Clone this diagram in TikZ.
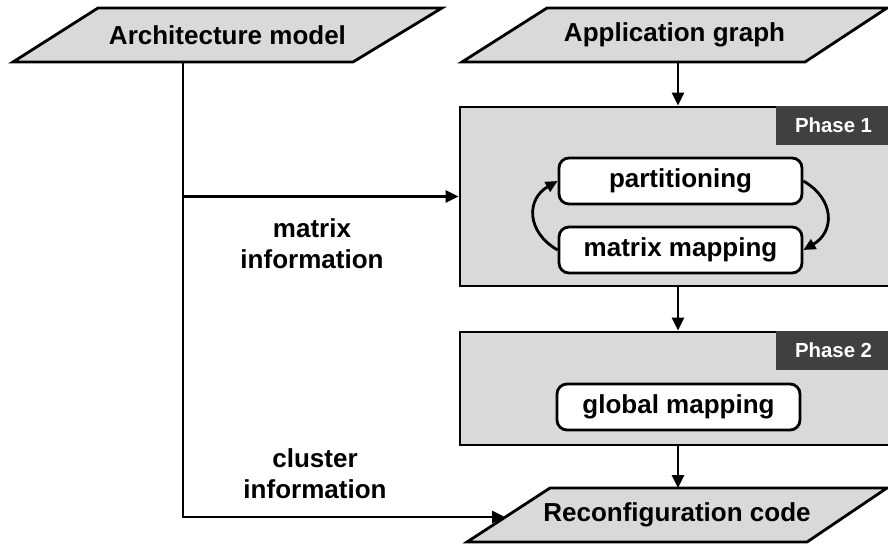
\documentclass[tikz,border=0pt]{standalone}
\usepackage{fontspec}
\setmainfont{Liberation Sans}
\usetikzlibrary{arrows.meta}

\definecolor{boxfill}{RGB}{217,217,217}
\definecolor{tagfill}{RGB}{64,64,64}

\begin{document}
\begin{tikzpicture}[
  font=\fontsize{14.8}{17.6}\selectfont\bfseries,
  iobox/.style={draw, fill=boxfill, line width=1.6pt},
  phasebox/.style={draw, fill=boxfill, line width=1.6pt, minimum width=8.6cm, inner sep=0pt},
  phasetag/.style={fill=tagfill, text=white, anchor=north east, minimum width=2.3cm,
    minimum height=0.78cm, inner sep=0pt, font=\fontsize{11.6}{14}\selectfont\bfseries},
  stepbox/.style={draw, fill=white, rounded corners=0.2cm, line width=1.6pt,
    minimum width=4.86cm, minimum height=0.92cm, inner sep=0pt},
  flowarrow/.style={line width=1.6pt, -{Triangle[length=0.26cm,width=0.24cm]}},
  cyclearrow/.style={line width=1.6pt, -{Triangle[length=0.24cm,width=0.22cm]}}
]
  \useasboundingbox (0,0) rectangle (17.76,10.88);

  % Draw inputs and output
  \draw[iobox] (0.26,9.64) -- (7.06,9.64) -- (8.84,10.72) -- (1.96,10.72) -- cycle;
  \node (arch) at (4.55,10.18) {Architecture model};
  \draw[iobox] (9.24,9.64) -- (16.1,9.64) -- (17.74,10.72) -- (10.94,10.72) -- cycle;
  \node (app) at (13.49,10.18) {Application graph};
  \draw[iobox] (9.34,0.04) -- (16.14,0.04) -- (17.74,1.12) -- (11.0,1.12) -- cycle;
  \node (reconf) at (13.54,0.58) {Reconfiguration code};

  \coordinate (archout) at (3.66,9.64);
  \coordinate (appout) at (13.56,9.64);
  \coordinate (reconfin) at (13.56,1.12);
  \coordinate (reconfleft) at (10.1,0.54);

  % Draw the two phases
  \node[phasebox, minimum height=3.58cm] (phase1) at (13.5,6.95) {};
  \node[phasetag] (tag1) at (phase1.north east) {Phase 1};
  \node[phasebox, minimum height=2.26cm] (phase2) at (13.5,3.11) {};
  \node[phasetag] (tag2) at (phase2.north east) {Phase 2};

  % Steps inside the phases
  \node[stepbox] (part) at (13.61,7.26) {partitioning};
  \node[stepbox] (mapping) at (13.61,5.88) {matrix mapping};
  \node[stepbox] (global) at (13.57,2.74) {global mapping};

  \draw[cyclearrow] (mapping.west) to[out=150,in=210,looseness=1.35] (part.west);
  \draw[cyclearrow] (part.east) to[out=-30,in=30,looseness=1.35] (mapping.east);

  % Main flow
  \draw[flowarrow] (appout) -- (appout |- phase1.north);
  \draw[flowarrow] (appout |- phase1.south) -- (appout |- phase2.north);
  \draw[flowarrow] (appout |- phase2.south) -- (reconfin);

  % Architecture information
  \coordinate (branch) at (archout |- phase1.west);
  \coordinate (corner) at (archout |- reconfleft);
  \draw[flowarrow] (archout) -- (corner) -- (reconfleft);
  \draw[flowarrow] (branch) -- (phase1.west);

  \node[align=center] (matinfo) at (6.24,6.0) {matrix\\information};
  \node[align=center] (clusinfo) at (6.3,1.4) {cluster\\information};

\end{tikzpicture}
\end{document}
